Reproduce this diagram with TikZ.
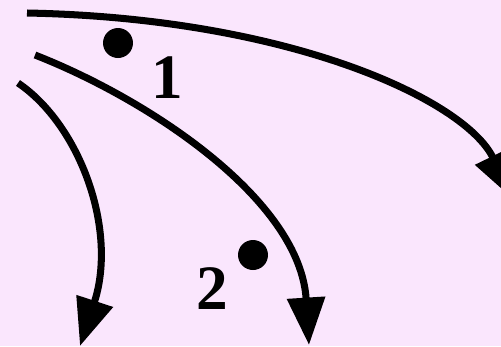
\documentclass[tikz,border=0pt]{standalone}
\usepackage{fontspec}
\setmainfont{Liberation Serif}
\usetikzlibrary{arrows.meta}
\definecolor{bgpink}{RGB}{250,230,253}
\begin{document}
\begin{tikzpicture}[x=0.02cm, y=-0.02cm,
        path/.style={line width=4pt, -{Triangle[length=27pt,width=21pt]}},
        dot/.style={circle, fill=black, inner sep=0pt, minimum size=0.6cm},
        num/.style={font=\fontsize{36}{36}\selectfont\bfseries}]
        \fill[bgpink] (0, 0) rectangle (501, 346);
        \useasboundingbox (0, 0) rectangle (501, 346);
        % start and end of the three paths
        \coordinate (s1) at (27, 13);
        \coordinate (e1) at (513, 199);
        \coordinate (s2) at (35, 55);
        \coordinate (e2) at (309, 345);
        \coordinate (s3) at (18, 83);
        \coordinate (e3) at (80, 346);
        \draw[path] (s1) .. controls (290, 18) and (465, 100) .. (e1);
        \draw[path] (s2) .. controls (150, 100) and (300, 200) .. (e2);
        \draw[path] (s3) .. controls (80, 125) and (118, 230) .. (e3);
        % the two points
        \node[dot] (p1) at (118, 43) {};
        \node[num] (n1) at (167, 78) {1};
        \node[dot] (p2) at (253, 255) {};
        \node[num] (n2) at (212, 289) {2};
    \end{tikzpicture}
\end{document}
